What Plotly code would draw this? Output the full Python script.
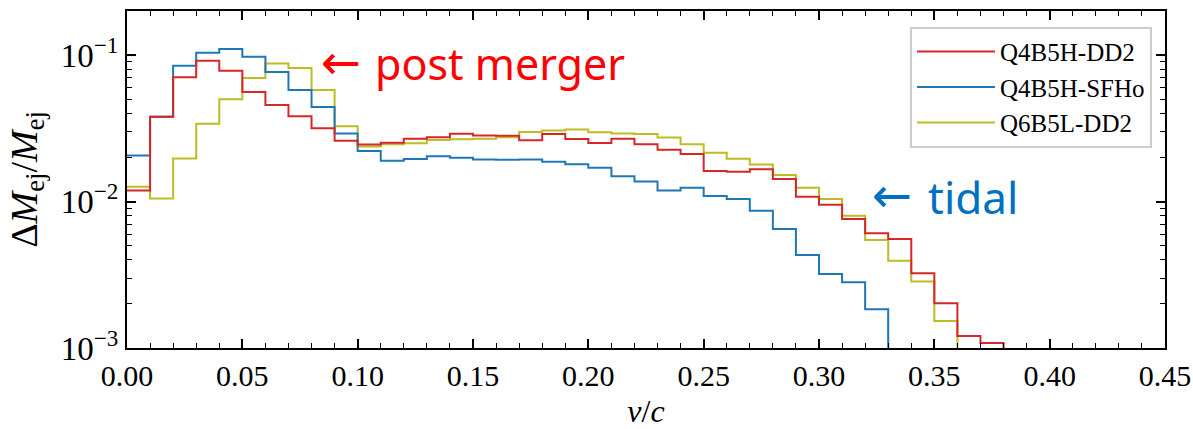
import numpy as np
import plotly.graph_objects as go

bin_width = 0.01

q4b5h_dd2 = [0.0119, 0.0379, 0.0705, 0.0914, 0.0781, 0.0559, 0.0456, 0.0383, 0.0316, 0.0260,
             0.0245, 0.0252, 0.0268, 0.0275, 0.0290, 0.0283, 0.0281, 0.0262, 0.0289, 0.0267,
             0.0251, 0.0268, 0.0246, 0.0226, 0.0211, 0.01615, 0.0160, 0.0166, 0.01425, 0.0108,
             0.00951, 0.00760, 0.00607, 0.00555, 0.00324, 0.00202, 0.00121, 0.00108]

q4b5h_sfho = [0.0206, 0.0379, 0.0845, 0.1037, 0.1099, 0.0974, 0.0766, 0.0577, 0.0442, 0.0292,
              0.0221, 0.0190, 0.0195, 0.0204, 0.0199, 0.0194, 0.0193, 0.0194, 0.0187, 0.0180,
              0.0170, 0.0149, 0.0137, 0.0119, 0.0124, 0.0109, 0.0104, 0.00865, 0.00649, 0.00431,
              0.00320, 0.00281, 0.00184]

q6b5l_dd2 = [0.0126, 0.0105, 0.0197, 0.0340, 0.0499, 0.0697, 0.0877, 0.0815, 0.0577, 0.0327,
             0.0238, 0.0246, 0.0250, 0.0263, 0.0266, 0.0268, 0.0275, 0.0298, 0.0306, 0.0311,
             0.0297, 0.0292, 0.0289, 0.0274, 0.0246, 0.0215, 0.0196, 0.0179, 0.0152, 0.0124,
             0.0104, 0.0080, 0.00546, 0.00394, 0.00284, 0.00153]

series = [
    ("Q6B5L-DD2", q6b5l_dd2, "#bcbd22", 3),
    ("Q4B5H-SFHo", q4b5h_sfho, "#1f77b4", 2),
    ("Q4B5H-DD2", q4b5h_dd2, "#d62728", 1),
]

FLOOR = 1e-6  # drop to below the axis at the last bin edge (step histogram outline)

fig = go.Figure()
for name, vals, color, rank in series:
    n = len(vals)
    edges = np.arange(n + 1) * bin_width
    yv = list(vals) + [FLOOR]
    fig.add_trace(go.Scatter(
        x=edges, y=yv, mode="lines", name=name,
        line=dict(color=color, width=2, shape="hv"),
        legendrank=rank,
    ))

serif = "Liberation Serif"

minor_y = [m * 10.0 ** e for e in (-3, -2, -1) for m in range(2, 10)]

fig.update_layout(
    width=1193, height=429,
    margin=dict(l=127, r=28, t=11, b=81),
    plot_bgcolor="white", paper_bgcolor="white",
    font=dict(family=serif, size=28, color="black"),
    showlegend=True,
    legend=dict(
        x=0.9875, xanchor="right", y=0.953, yanchor="top",
        bgcolor="rgba(255,255,255,0.9)", bordercolor="#cccccc", borderwidth=2,
        font=dict(family=serif, size=25, color="black"),
        tracegroupgap=0, itemwidth=78,
    ),
    xaxis=dict(
        range=[0, 0.45], dtick=0.05, tick0=0, tickformat=".2f",
        showline=True, linecolor="black", linewidth=2, mirror="allticks",
        ticks="inside", ticklen=9, tickwidth=1.5, tickcolor="black",
        showgrid=False, zeroline=False, automargin=False,
        tickfont=dict(family=serif, size=30),
        minor=dict(dtick=0.01, ticks="inside", ticklen=5, tickwidth=1.2, tickcolor="black", showgrid=False),
        title=dict(text="<i>v</i>/<i>c</i>", font=dict(family=serif, size=32), standoff=10),
    ),
    yaxis=dict(
        type="log", range=[-3, np.log10(0.2)],
        tickvals=[1e-3, 1e-2, 1e-1],
        ticktext=["10<sup>−3</sup>", "10<sup>−2</sup>", "10<sup>−1</sup>"],
        showline=True, linecolor="black", linewidth=2, mirror="allticks",
        ticks="inside", ticklen=9, tickwidth=1.5, tickcolor="black",
        showgrid=False, zeroline=False, automargin=False,
        tickfont=dict(family=serif, size=33),
        minor=dict(tickvals=minor_y, ticks="inside", ticklen=5, tickwidth=1.2, tickcolor="black", showgrid=False),
        title=dict(text="Δ<i>M</i><sub>ej</sub>/<i>M</i><sub>ej</sub>", font=dict(family=serif, size=38), standoff=12),
    ),
)

sans = "Noto Sans"
arrow_font = "DejaVu Sans"
fig.add_annotation(
    x=0.0832, y=np.log10(0.090), xref="x", yref="y", xanchor="left", yanchor="middle",
    text="←", showarrow=False,
    font=dict(family=arrow_font, size=48, color="#ff0000"),
)
fig.add_annotation(
    x=0.1065, y=np.log10(0.088), xref="x", yref="y", xanchor="left", yanchor="middle",
    text="post merger", showarrow=False,
    font=dict(family=sans, size=43, color="#ff0000"),
)
fig.add_annotation(
    x=0.3222, y=np.log10(0.0111), xref="x", yref="y", xanchor="left", yanchor="middle",
    text="←", showarrow=False,
    font=dict(family=arrow_font, size=48, color="#0070c0"),
)
fig.add_annotation(
    x=0.3465, y=np.log10(0.0108), xref="x", yref="y", xanchor="left", yanchor="middle",
    text="tidal", showarrow=False,
    font=dict(family=sans, size=44, color="#0070c0"),
)

fig.write_html("out.html", config={"displayModeBar": False},
               post_script="document.body.style.margin='0';")
